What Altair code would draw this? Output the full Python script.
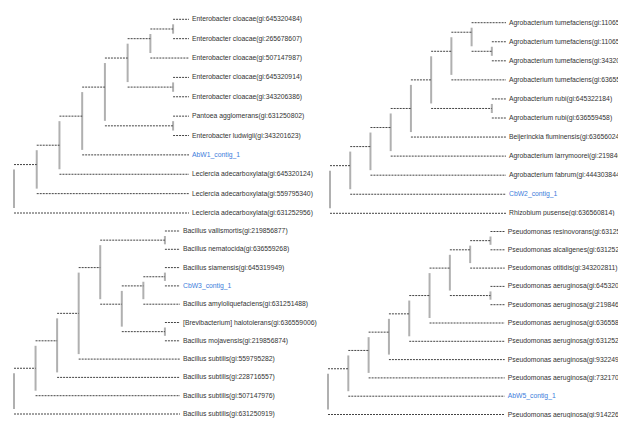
import altair as alt
import pandas as pd

# ---------------- data ----------------
LABELS_1 = [
    "Enterobacter cloacae(gi:645320484)",
    "Enterobacter cloacae(gi:265678607)",
    "Enterobacter cloacae(gi:507147987)",
    "Enterobacter cloacae(gi:645320914)",
    "Enterobacter cloacae(gi:343206386)",
    "Pantoea agglomerans(gi:631250802)",
    "Enterobacter ludwigii(gi:343201623)",
    "AbW1_contig_1",
    "Leclercia adecarboxylata(gi:645320124)",
    "Leclercia adecarboxylata(gi:559795340)",
    "Leclercia adecarboxylata(gi:631252956)",
]
TREE_1 = ((((((((0, 1), 2), (3, 4)), (5, 6)), 7), 8), 9), 10)
QUERY_1 = 7

LABELS_2 = [
    "Agrobacterium tumefaciens(gi:110659551)",
    "Agrobacterium tumefaciens(gi:110659549)",
    "Agrobacterium tumefaciens(gi:343200709)",
    "Agrobacterium tumefaciens(gi:636559456)",
    "Agrobacterium rubi(gi:645322184)",
    "Agrobacterium rubi(gi:636559458)",
    "Beijerinckia fluminensis(gi:636560246)",
    "Agrobacterium larrymoorei(gi:219846927)",
    "Agrobacterium fabrum(gi:444303844)",
    "CbW2_contig_1",
    "Rhizobium pusense(gi:636560814)",
]
TREE_2 = ((((((((0, (1, 2)), 3), (4, 5)), 6), 7), 8), 9), 10)
QUERY_2 = 9

LABELS_3 = [
    "Bacillus vallismortis(gi:219856877)",
    "Bacillus nematocida(gi:636559268)",
    "Bacillus siamensis(gi:645319949)",
    "CbW3_contig_1",
    "Bacillus amyloliquefaciens(gi:631251488)",
    "[Brevibacterium] halotolerans(gi:636559006)",
    "Bacillus mojavensis(gi:219856874)",
    "Bacillus subtilis(gi:559795282)",
    "Bacillus subtilis(gi:228716557)",
    "Bacillus subtilis(gi:507147976)",
    "Bacillus subtilis(gi:631250919)",
]
TREE_3 = (((((((0, 1), (((2, 3), 4), (5, 6))), 7), 8), 9), 10))
QUERY_3 = 3

LABELS_4 = [
    "Pseudomonas resinovorans(gi:631250866)",
    "Pseudomonas alcaligenes(gi:631252448)",
    "Pseudomonas otitidis(gi:343202811)",
    "Pseudomonas aeruginosa(gi:645320483)",
    "Pseudomonas aeruginosa(gi:219846486)",
    "Pseudomonas aeruginosa(gi:636558415)",
    "Pseudomonas aeruginosa(gi:631252401)",
    "Pseudomonas aeruginosa(gi:932249971)",
    "Pseudomonas aeruginosa(gi:732170056)",
    "AbW5_contig_1",
    "Pseudomonas aeruginosa(gi:914226236)",
]
TREE_4 = (((((((((0, 1), 2), (3, 4)), 5), 6), 7), 8), 9), 10)
QUERY_4 = 9

FONT = "Liberation Sans"
LEAF_GAP = 0.3


def height(node):
    if isinstance(node, int):
        return 0
    return 1 + max(height(c) for c in node)


def layout(tree, labels, query):
    H = height(tree)
    leaf_x = H - LEAF_GAP
    hl, vl, tx = [], [], []

    def walk(node, parent_x):
        if isinstance(node, int):
            half = 2 * node
            x = leaf_x
            tx.append({"x": x, "y": node, "label": labels[node],
                       "kind": "query" if node == query else "ref"})
        else:
            x = H - height(node)
            kids = [walk(c, x) for c in node]
            half = (kids[0] + kids[-1]) // 2
            vl.append({"x": x, "y": kids[0] / 2, "y2": kids[-1] / 2})
        if parent_x is not None:
            hl.append({"x": parent_x, "x2": x, "y": half / 2})
        return half

    walk(tree, None)
    return pd.DataFrame(hl), pd.DataFrame(vl), pd.DataFrame(tx), H


def panel(tree, labels, query, xr, yr, w, h, clip):
    hdf, vdf, tdf, H = layout(tree, labels, query)
    xs = alt.Scale(domain=[0, H - LEAF_GAP], range=xr)
    ys = alt.Scale(domain=[0, len(labels) - 1], range=yr)
    X = alt.X("x:Q", scale=xs, axis=None)
    Y = alt.Y("y:Q", scale=ys, axis=None)
    ver = alt.Chart(vdf).mark_rule(
        color="#b0b0b0", strokeWidth=2, yOffset=5, y2Offset=-5
    ).encode(x=X, y=Y, y2="y2:Q")
    hor = alt.Chart(hdf).mark_rule(
        color="#444444", strokeWidth=1, strokeDash=[2, 1]
    ).encode(x=X, x2="x2:Q", y=Y)
    txt = alt.Chart(tdf).mark_text(
        align="left", baseline="middle", dx=3, font=FONT, fontSize=6.8,
        clip=clip,
    ).encode(
        x=X, y=Y, text="label:N",
        color=alt.Color("kind:N", scale=alt.Scale(domain=["ref", "query"],
                                                  range=["#333333", "#3c7ddb"]),
                        legend=None),
    )
    return alt.layer(ver, hor, txt).properties(width=w, height=h)


p1 = panel(TREE_1, LABELS_1, QUERY_1, [6, 181], [11.3, 205], 305, 208, False)
p2 = panel(TREE_2, LABELS_2, QUERY_2, [17, 193], [14.7, 205.3], 305, 208, True)
p3 = panel(TREE_3, LABELS_3, QUERY_3, [6, 172], [15, 198], 305, 202, False)
p4 = panel(TREE_4, LABELS_4, QUERY_4, [15, 191.7], [15.5, 198.5], 305, 202, True)

chart = alt.concat(
    p1, p2, p3, p4, columns=2, spacing=0, bounds="flush",
).properties(padding=0).configure_view(strokeWidth=0)

chart.save("out.html", embed_options={"renderer": "svg", "actions": False})
